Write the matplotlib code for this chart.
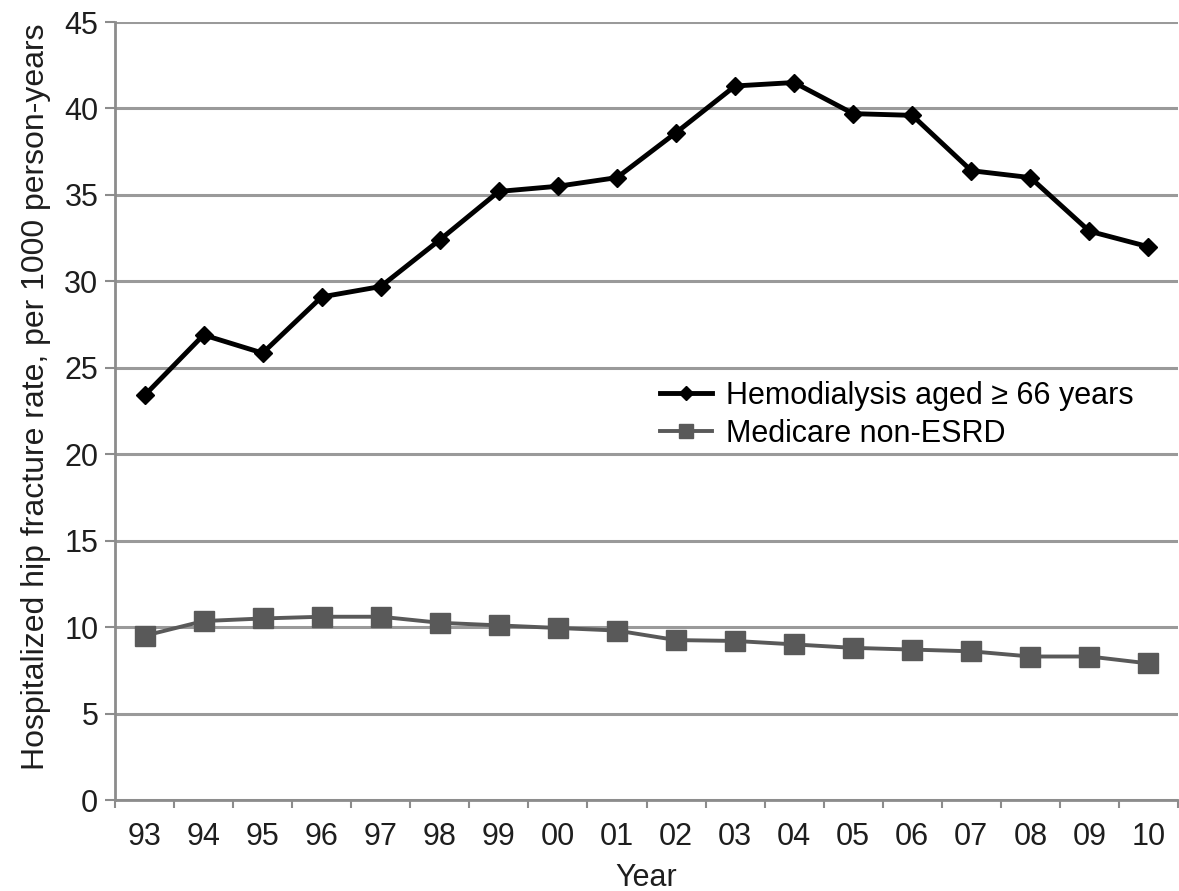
import numpy as np
import matplotlib.pyplot as plt
from matplotlib.ticker import FixedLocator

plt.rcParams['font.family'] = ['Liberation Sans', 'DejaVu Sans']

# data
years = ['93', '94', '95', '96', '97', '98', '99', '00', '01',
         '02', '03', '04', '05', '06', '07', '08', '09', '10']
hemodialysis = [23.4, 26.9, 25.85, 29.1, 29.7, 32.4, 35.2, 35.5, 36.0,
                38.6, 41.3, 41.5, 39.7, 39.6, 36.4, 36.0, 32.9, 32.0]
medicare = [9.5, 10.35, 10.5, 10.6, 10.6, 10.25, 10.1, 9.95, 9.8,
            9.25, 9.2, 9.0, 8.8, 8.7, 8.6, 8.3, 8.3, 7.9]
label_hd = 'Hemodialysis aged \u2265 66 years'
label_mc = 'Medicare non-ESRD'

grey = '#8c8c8c'
txt = '#1e1e1e'

fig = plt.figure(figsize=(11.79, 8.91), dpi=100)
ax = fig.add_axes([115 / 1179, 1 - 800 / 891, (1178 - 115) / 1179, (800 - 22) / 891])

x = np.arange(len(years))
ax.plot(x, hemodialysis, color='black', lw=3.5, marker='D', ms=9,
        label=label_hd, zorder=4)
ax.plot(x, medicare, color='#595959', lw=2.8, marker='s', ms=14,
        label=label_mc, zorder=3)

ax.set_xlim(-0.5, len(years) - 0.5)
ax.set_ylim(0, 45)
ax.set_yticks(np.arange(0, 46, 5))
ax.yaxis.grid(True, color='#9a9a9a', lw=2.2)
ax.set_axisbelow(True)

ax.set_xticks(x)
ax.set_xticklabels(years)
ax.xaxis.set_minor_locator(FixedLocator(np.arange(-0.5, len(years), 1)))
ax.tick_params(axis='x', which='major', length=0, pad=16, labelsize=22,
               labelcolor=txt)
ax.tick_params(axis='x', which='minor', length=6, width=1.5, color=grey)
ax.tick_params(axis='y', length=7, width=1.5, color=grey, pad=5,
               labelsize=22, labelcolor=txt)

for s in ['top', 'right']:
    ax.spines[s].set_visible(False)
for s in ['left', 'bottom']:
    ax.spines[s].set_color(grey)
    ax.spines[s].set_linewidth(2)

ax.set_ylabel('Hospitalized hip fracture rate, per 1000 person-years',
              fontsize=23, color=txt)
ax.yaxis.set_label_coords(-0.06, 0.518)
ax.set_xlabel('Year', fontsize=22, color=txt, labelpad=8)

fig.legend(loc='upper left', bbox_to_anchor=(660 / 1179, 1 - 381 / 891),
           frameon=False, fontsize=22, handlelength=1.7, handletextpad=0.45,
           labelspacing=0.25, borderpad=0, borderaxespad=0, markerscale=0.75)

fig.savefig('out.png', dpi=100)
